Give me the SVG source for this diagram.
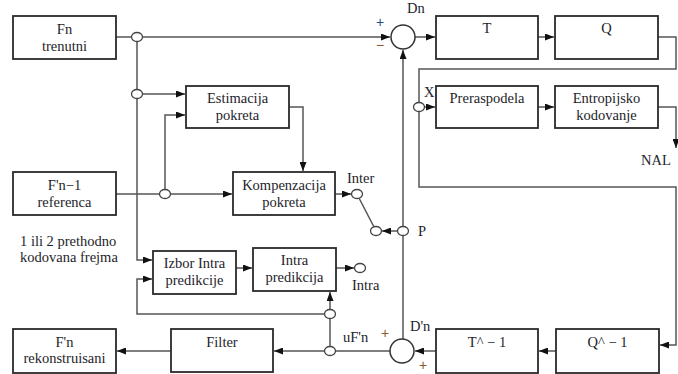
<svg xmlns="http://www.w3.org/2000/svg" width="678" height="374" viewBox="0 0 678 374">
<defs>
<style>
.box{fill:#fff;stroke:#2a2a2a;stroke-width:1.8}
.ln{fill:none;stroke:#555;stroke-width:1.5}
.ar{fill:none;stroke:#555;stroke-width:1.5;marker-end:url(#ah)}
.dot{fill:#fff;stroke:#444;stroke-width:1.3}
.sum{fill:#fff;stroke:#333;stroke-width:1.5}
text{font-family:"Liberation Serif","Times New Roman",serif;font-size:14.5px;fill:#1e1e2a}
.c{text-anchor:middle}
.sg{font-family:"Liberation Sans",Arial,sans-serif;font-size:14px;fill:#8a5a2a}
</style>
<marker id="ah" markerWidth="9" markerHeight="7" refX="9" refY="3.5" orient="auto" markerUnits="userSpaceOnUse">
<path d="M0,0 L9,3.5 L0,7 z" fill="#111"/>
</marker>
</defs>
<rect width="678" height="374" fill="#fff"/>

<g id="connectors">
<path class="ar" d="M116,37 H390"/>
<path class="ar" d="M137,37 V260 H152"/>
<path class="ar" d="M142,94 H185"/>
<path class="ar" d="M165,190 V115 H185"/>
<path class="ar" d="M116,194 H232"/>
<path class="ar" d="M289,107 H303 V171"/>
<path class="ar" d="M335,194 H351"/>
<path class="ln" d="M359,198 L374,227"/>
<path class="ar" d="M398,231 H382"/>
<path class="ar" d="M403,339 V50"/>
<path class="ar" d="M415,37 H435"/>
<path class="ar" d="M538,37 H554"/>
<path class="ln" d="M658,37 H676 V69 H419 V103"/>
<path class="ar" d="M419,111 V187 H676 V345 H660"/>
<path class="ar" d="M424,107 H435"/>
<path class="ar" d="M538,107 H554"/>
<path class="ar" d="M658,107 H676 V148"/>
<path class="ar" d="M556,351 H539"/>
<path class="ar" d="M436,351 H415"/>
<path class="ar" d="M390,351 H274"/>
<path class="ar" d="M330,351 V292"/>
<path class="ar" d="M325,314 H137 V279 H152"/>
<path class="ar" d="M236,268 H252"/>
<path class="ar" d="M336,268 H354"/>
<path class="ar" d="M171,351 H117"/>
<ellipse class="dot" cx="137" cy="37" rx="5.5" ry="4.5"/>
<ellipse class="dot" cx="137" cy="94" rx="5.5" ry="4.5"/>
<ellipse class="dot" cx="165" cy="194" rx="5.5" ry="4.5"/>
<ellipse class="dot" cx="357" cy="194" rx="5.5" ry="4.5"/>
<ellipse class="dot" cx="376" cy="231" rx="5.5" ry="4.5"/>
<ellipse class="dot" cx="403" cy="231" rx="5.5" ry="4.5"/>
<ellipse class="dot" cx="419" cy="107" rx="5.5" ry="4.5"/>
<ellipse class="dot" cx="360" cy="268" rx="5.5" ry="4.5"/>
<ellipse class="dot" cx="330" cy="314" rx="5.5" ry="4.5"/>
<ellipse class="dot" cx="330" cy="351" rx="5.5" ry="4.5"/>
</g>

<g id="fn"><rect class="box" x="13" y="16" width="103" height="43"/><text class="c" x="64.5" y="34">Fn</text><text class="c" x="64.5" y="51">trenutni</text></g>
<g id="estimacija"><rect class="box" x="186" y="86" width="103" height="42"/><text class="c" x="237.5" y="103">Estimacija</text><text class="c" x="237.5" y="120">pokreta</text></g>
<g id="kompenzacija"><rect class="box" x="233" y="172" width="102" height="43"/><text class="c" x="284" y="190">Kompenzacija</text><text class="c" x="284" y="207">pokreta</text></g>
<g id="fn1"><rect class="box" x="13" y="172" width="103" height="43"/><text class="c" x="64.5" y="190">F'n−1</text><text class="c" x="64.5" y="207">referenca</text></g>
<g id="izbor"><rect class="box" x="153" y="251" width="83" height="43"/><text class="c" x="194.5" y="268">Izbor Intra</text><text class="c" x="194.5" y="285">predikcije</text></g>
<g id="intra"><rect class="box" x="253" y="248" width="83" height="43"/><text class="c" x="294.5" y="265">Intra</text><text class="c" x="294.5" y="282">predikcija</text></g>
<g id="fnrek"><rect class="box" x="13" y="329" width="103" height="44"/><text class="c" x="64.5" y="347">F'n</text><text class="c" x="64.5" y="363">rekonstruisani</text></g>
<g id="filter"><rect class="box" x="171" y="329" width="102" height="43"/><text class="c" x="222" y="347">Filter</text></g>
<g id="tinv"><rect class="box" x="436" y="329" width="102" height="44"/><text class="c" x="487" y="347">T^ − 1</text></g>
<g id="qinv"><rect class="box" x="556" y="329" width="103" height="44"/><text class="c" x="607.5" y="347">Q^ − 1</text></g>
<g id="t"><rect class="box" x="436" y="16" width="102" height="43"/><text class="c" x="487" y="33">T</text></g>
<g id="q"><rect class="box" x="555" y="16" width="103" height="43"/><text class="c" x="606.5" y="33">Q</text></g>
<g id="preraspodela"><rect class="box" x="436" y="86" width="102" height="42"/><text class="c" x="487" y="103">Preraspodela</text></g>
<g id="entropijsko"><rect class="box" x="555" y="86" width="103" height="42"/><text class="c" x="606.5" y="103">Entropijsko</text><text class="c" x="606.5" y="120">kodovanje</text></g>

<g id="sum1"><circle class="sum" cx="403" cy="37" r="12"/><text x="407" y="13">Dn</text><text class="sg" x="376" y="27" style="fill:#2a4a8a">+</text><text class="sg" x="376" y="50">−</text></g>
<g id="sum2"><circle class="sum" cx="402" cy="351" r="12"/><text x="410" y="331">D'n</text><text class="sg" x="381" y="338">+</text><text class="sg" x="419" y="370">+</text></g>

<g id="labels">
<text x="347" y="183">Inter</text>
<text x="418" y="236">P</text>
<text x="352" y="290">Intra</text>
<text x="424" y="97">X</text>
<text x="641" y="165">NAL</text>
<text x="343" y="342">uF'n</text>
<text x="20" y="246">1 ili 2 prethodno</text>
<text x="20" y="262">kodovana frejma</text>
</g>
</svg>
